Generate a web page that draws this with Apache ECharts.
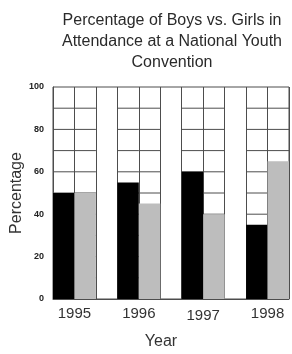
<!DOCTYPE html>
<html>
<head>
<meta charset="utf-8">
<script src="https://cdn.jsdelivr.net/npm/echarts@6/dist/echarts.min.js"></script>
<style>
  html, body { margin: 0; padding: 0; background: #fff; }
  #main { width: 292px; height: 354px; }
</style>
</head>
<body>
<div id="main"></div>
<script>
    // 数据
    var years = ['1995', '1996', '1997', '1998'];
    var boys = [50, 55, 60, 35];
    var girls = [50, 45, 40, 65];
    var yTicks = [0, 20, 40, 60, 80, 100];
    var cellStep = 10;

    var lineColor = '#4d4d4d';
    var font = 'Liberation Sans, Arial, sans-serif';

    // 每年占 3 个格子：男、女、空白
    var slotCount = years.length * 3 - 1;

    var barData = [];
    var cellData = [];
    years.forEach(function (y, i) {
        barData.push([i * 3, boys[i], 0]);
        barData.push([i * 3 + 1, girls[i], 1]);
        cellData.push([i * 3]);
        cellData.push([i * 3 + 1]);
    });

    var myChart = echarts.init(document.getElementById('main'));
    myChart.setOption({
        animation: false,
        title: {
            text: 'Percentage of Boys vs. Girls in\nAttendance at a National Youth\nConvention',
            left: 172,
            top: 10,
            padding: 0,
            textAlign: 'center',
            textStyle: {
                fontFamily: font,
                fontSize: 16,
                fontWeight: 'normal',
                lineHeight: 21,
                color: '#2a2a2a'
            }
        },
        grid: {
            left: 53,
            right: 3,
            top: 87,
            bottom: 55,
            outerBoundsMode: 'none',
            show: true,
            borderColor: lineColor,
            borderWidth: 1,
            backgroundColor: '#fff'
        },
        xAxis: {
            type: 'value',
            min: 0,
            max: slotCount,
            interval: 1,
            name: 'Year',
            nameLocation: 'middle',
            nameGap: 35,
            nameMoveOverlap: false,
            nameTextStyle: {
                fontFamily: font,
                fontSize: 16,
                color: '#333',
                padding: [0, 20, 0, 0]
            },
            axisLine: { show: true, lineStyle: { color: lineColor } },
            axisTick: { show: false },
            splitLine: { show: true, lineStyle: { color: lineColor, width: 1 } },
            axisLabel: {
                margin: 7,
                fontFamily: font,
                fontSize: 15,
                color: '#333',
                formatter: function (v) {
                    if (v % 3 !== 1) return '';
                    var y = years[(v - 1) / 3];
                    return y === '1997' ? '{low|' + y + '}' : y;
                },
                rich: {
                    low: { fontFamily: font, fontSize: 15, color: '#333', padding: [2, 0, 0, 0] }
                }
            }
        },
        yAxis: {
            type: 'value',
            min: 0,
            max: 100,
            interval: 20,
            name: 'Percentage',
            nameLocation: 'middle',
            nameGap: 28,
            nameMoveOverlap: false,
            nameTextStyle: {
                fontFamily: font,
                fontSize: 16,
                color: '#333'
            },
            axisLine: { show: true, lineStyle: { color: lineColor } },
            axisTick: { show: false },
            splitLine: { show: false },
            axisLabel: {
                margin: 9,
                fontFamily: font,
                fontSize: 9,
                fontWeight: 'bold',
                color: '#222',
                formatter: function (v) {
                    return yTicks.indexOf(v) > -1 ? v : '';
                }
            }
        },
        series: [{
            // 格子横线
            type: 'custom',
            z: 1,
            data: cellData,
            renderItem: function (params, api) {
                var x0 = api.value(0);
                var children = [];
                for (var v = cellStep; v < 100; v += cellStep) {
                    var a = api.coord([x0, v]);
                    var b = api.coord([x0 + 1, v]);
                    children.push({
                        type: 'line',
                        shape: { x1: a[0], y1: a[1], x2: b[0], y2: b[1] },
                        style: { stroke: lineColor, lineWidth: 1 }
                    });
                }
                return { type: 'group', children: children };
            }
        }, {
            // 柱子
            type: 'custom',
            z: 3,
            data: barData,
            renderItem: function (params, api) {
                var x0 = api.value(0);
                var p0 = api.coord([x0, 0]);
                var p1 = api.coord([x0 + 1, api.value(1)]);
                return {
                    type: 'rect',
                    shape: { x: p0[0], y: p1[1], width: p1[0] - p0[0], height: p0[1] - p1[1] },
                    style: { fill: api.value(2) === 0 ? '#000' : '#bdbdbd' }
                };
            }
        }]
    });
</script>
</body>
</html>
